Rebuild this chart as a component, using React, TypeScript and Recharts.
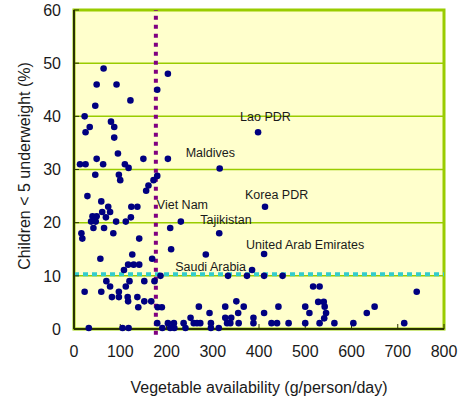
import React from "react";
import {
  ScatterChart, Scatter, XAxis, YAxis, CartesianGrid,
  ReferenceLine, ReferenceArea, Label,
} from "recharts";

// vegetable availability (g/person/day) vs children < 5 underweight (%)
const vegetable = [
  64, 203, 49, 92, 180, 122, 46, 23, 80, 87, 34, 25, 87, 95, 49, 150, 203, 13, 25, 63,
  110, 118, 46, 97, 100, 172, 180, 161, 156, 29, 59, 74, 124, 137, 61, 78, 40, 49, 69, 123,
  37, 47, 91, 112, 42, 65, 208, 16, 85, 18, 141, 210, 126, 285, 57, 169, 117, 129, 141, 108,
  187, 333, 374, 411, 451, 70, 120, 152, 174, 78, 112, 517, 531, 23, 59, 97, 741, 82, 97, 116,
  137, 117, 152, 167, 351, 528, 540, 139, 181, 190, 270, 327, 367, 442, 500, 542, 650, 293, 355, 411,
  509, 545, 633, 252, 327, 340, 388, 541,
  180, 203, 216, 237, 259, 266, 273, 296, 331, 338, 356, 388, 427, 439, 464, 500, 531, 563, 604, 714,
  32, 105, 118, 191, 208, 217, 241, 296, 313,
];
const underweight = [
  49, 48, 46, 46, 45, 43, 42, 40, 39, 38, 38, 37, 36, 33, 32, 32, 32, 31, 31, 31,
  31, 30.3, 29, 29, 28, 28, 28.8, 27, 26, 25, 24, 23, 23, 23, 22, 22, 21.2, 21.2, 21, 21,
  20.2, 20.2, 20.2, 20.2, 19, 19, 19, 18, 18, 17, 17, 15, 14, 14, 13.2, 13.2, 12.1, 12.1, 12.1, 11.1,
  10, 10, 10, 10, 10, 9, 9, 9, 9, 8, 8, 8, 8, 7, 7, 7, 7, 6, 6, 6,
  6, 5.2, 5.2, 5.2, 5.2, 5.1, 5.1, 4.1, 4.1, 4.1, 4.2, 4.2, 4.2, 4.2, 4.2, 4.2, 4.2, 3, 3, 3,
  3, 3, 3, 2.1, 2.1, 2.1, 2.1, 2,
  1.1, 1.1, 1.1, 1.1, 1.1, 1.1, 1.1, 1.1, 1.1, 1.1, 1.1, 1.1, 1.1, 1.1, 1.1, 1.1, 1.1, 1.1, 1.1, 1.1,
  0.2, 0.2, 0.2, 0.2, 0.2, 0.2, 0.2, 0.2, 0.2,
];

const countries = ["Lao PDR", "Maldives", "Korea PDR", "Viet Nam", "Tajikistan", "United Arab Emirates", "Saudi Arabia"];
const countryVeg = [398, 315, 413, 231, 314, 411, 385];
const countryUnder = [37, 30.2, 23, 20.2, 18, 14.1, 11.1];

const xTicks = [0, 100, 200, 300, 400, 500, 600, 700, 800];
const yTicks = [0, 10, 20, 30, 40, 50, 60];

const vegCutoff = 177;
const underweightCutoff = 10.3;

const FONT = "Arial, 'Liberation Sans', sans-serif";

// where each country name sits relative to its dot
const labelOffset: Record<string, { dx: number; dy: number; anchor?: "start" | "end" }> = {
  "Lao PDR": { dx: -18, dy: -15 },
  "Maldives": { dx: -34, dy: -15 },
  "Korea PDR": { dx: -20, dy: -12 },
  "Viet Nam": { dx: -24, dy: -17 },
  "Tajikistan": { dx: -19, dy: -13 },
  "United Arab Emirates": { dx: -18, dy: -9 },
  "Saudi Arabia": { dx: -6, dy: -3, anchor: "end" },
};

const points = vegetable.map((v, i) => ({ veg: v, under: underweight[i] }));
const named = countries.map((c, i) => ({ veg: countryVeg[i], under: countryUnder[i], name: c }));

const Dot = (props: any) => (
  <circle cx={props.cx} cy={props.cy} r={3.3} fill="#000080" />
);

const NamedDot = (props: any) => {
  const name = props.payload?.name ?? props.name;
  const o = labelOffset[name] ?? { dx: 0, dy: 0 };
  return (
    <g>
      <circle cx={props.cx} cy={props.cy} r={3.3} fill="#000080" />
      <text
        x={props.cx + o.dx}
        y={props.cy + o.dy}
        textAnchor={o.anchor ?? "start"}
        dominantBaseline="central"
        fontSize={12.5}
        fontFamily={FONT}
        fill="#1a1a1a"
      >
        {name}
      </text>
    </g>
  );
};

// rotated y title
const YTitle = () => (
  <text
    transform="translate(24, 166) rotate(-90)"
    textAnchor="middle"
    dominantBaseline="central"
    fontSize={16}
    fontFamily={FONT}
    fill="#1a1a1a"
  >
    Children &lt; 5 underweight (%)
  </text>
);

export default function App() {
  const tick = { fill: "#1a1a1a", fontSize: 16, fontFamily: FONT };
  return (
    <div style={{ position: "absolute", left: 0, top: 0, background: "#fff" }}>
      <ScatterChart width={462} height={406} margin={{ top: 10, right: 18, bottom: 0, left: 0 }}>
        <CartesianGrid vertical={false} stroke="#99CC00" strokeWidth={1.5} fill="#FFFFCC" fillOpacity={1} />
        <ReferenceArea x1={0} x2={800} y1={0} y2={60} fill="none" stroke="#99CC00" strokeWidth={3} />
        <XAxis
          type="number"
          dataKey="veg"
          domain={[0, 800]}
          ticks={xTicks}
          tick={tick}
          tickSize={-5}
          tickMargin={22}
          axisLine={{ stroke: "#2b3300", strokeWidth: 2 }}
          tickLine={{ stroke: "#2b3300" }}
          height={77}
        >
          <Label
            value="Vegetable availability (g/person/day)"
            position="center"
            dy={20}
            style={{ fill: "#1a1a1a", fontSize: 16, fontFamily: FONT }}
          />
        </XAxis>
        <YAxis
          type="number"
          dataKey="under"
          domain={[0, 60]}
          ticks={yTicks}
          tick={tick}
          tickSize={-5}
          tickMargin={18}
          axisLine={{ stroke: "#2b3300", strokeWidth: 2 }}
          tickLine={{ stroke: "#2b3300" }}
          width={74}
        >
          <Label content={YTitle} />
        </YAxis>
        <ReferenceLine
          y={underweightCutoff}
          stroke="#33CCCC"
          strokeWidth={4}
          strokeDasharray="5 4"
        />
        <ReferenceLine
          segment={[{ x: vegCutoff, y: -1.1 }, { x: vegCutoff, y: 60 }]}
          ifOverflow="visible"
          stroke="#800080"
          strokeWidth={4}
          strokeDasharray="4 5"
        />
        <Scatter data={points} shape={Dot} isAnimationActive={false} />
        <Scatter data={named} shape={NamedDot} isAnimationActive={false} />
      </ScatterChart>
    </div>
  );
}
